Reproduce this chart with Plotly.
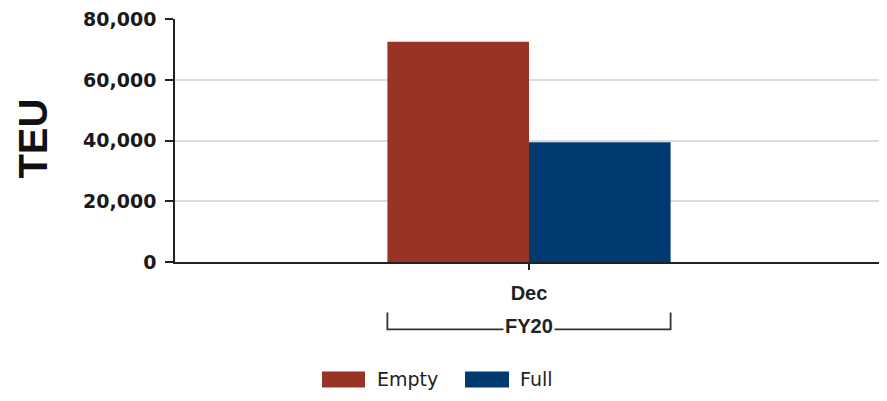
import plotly.graph_objects as go

# ---- data ----
categories = ["Dec"]
group_label = "FY20"
series_names = ["Empty", "Full"]
empty_values = [72600]
full_values = [39450]
y_ticks = [0, 20000, 40000, 60000, 80000]
y_title = "TEU"

colors = ["#993324", "#003A70"]

# ---- layout geometry (page pixels; page body has an 8px offset) ----
OFF = 8
PAGE_W, PAGE_H = 887, 401
W, H = PAGE_W - OFF, PAGE_H - OFF
PLOT_L, PLOT_R, PLOT_T, PLOT_B = 175, 883, 19.3, 262.5  # page coords
L = PLOT_L - OFF
R = PAGE_W - PLOT_R
T = PLOT_T - OFF
B = PAGE_H - PLOT_B
pw = PLOT_R - PLOT_L
ph = PLOT_B - PLOT_T


def px_x(px):
    return (px - PLOT_L) / pw


def px_y(py):
    return (PLOT_B - py) / ph


fig = go.Figure()
fig.add_trace(go.Bar(x=categories, y=empty_values, name=series_names[0],
                     marker=dict(color=colors[0], line=dict(width=0))))
fig.add_trace(go.Bar(x=categories, y=full_values, name=series_names[1],
                     marker=dict(color=colors[1], line=dict(width=0))))

fig.update_layout(
    width=W, height=H,
    margin=dict(l=L, r=R, t=T, b=B, pad=0, autoexpand=False),
    paper_bgcolor="white", plot_bgcolor="white",
    barmode="group", bargap=0.6, bargroupgap=0,
    showlegend=False,
)

fig.update_yaxes(
    range=[0, 80080], tickvals=y_ticks, tickformat=",",
    automargin=False,
    showgrid=True, gridcolor="#DCDCDC", gridwidth=1.5,
    showline=True, linecolor="#222222", linewidth=1.5,
    ticks="outside", ticklen=8, tickcolor="#222222", tickwidth=1.5,
    ticklabelstandoff=5, ticklabeloverflow="allow",
    tickfont=dict(family="DejaVu Sans", size=19, color="#1a1a1a", weight="bold"),
    zeroline=False,
)
fig.update_xaxes(
    automargin=False,
    showline=True, linecolor="#222222", linewidth=1.5,
    ticks="outside", ticklen=6, tickcolor="#222222", tickwidth=1.5,
    ticklabelstandoff=6,
    tickfont=dict(family="Liberation Sans", size=20, color="#222222", weight="bold"),
    showgrid=False,
)

# y-axis title
fig.add_annotation(
    text=y_title, textangle=-90, xref="paper", yref="paper",
    x=px_x(33), y=px_y(139), xanchor="center", yanchor="middle",
    showarrow=False,
    font=dict(family="Liberation Sans", size=40, color="#111111", weight="bold"),
)

# group bracket (FY20) spanning the bar group
half = (1 - 0.6) / 2
yb_top = px_y(313)
yb_bot = px_y(330)
fig.add_shape(
    type="path", xref="x", yref="paper",
    path=f"M {-half},{yb_top} L {-half},{yb_bot} L {half},{yb_bot} L {half},{yb_top}",
    line=dict(color="#333333", width=1.8),
)
fig.add_annotation(
    text=group_label, xref="x", yref="paper", x=0, y=px_y(327),
    xanchor="center", yanchor="middle", showarrow=False,
    bgcolor="white", borderpad=1,
    font=dict(family="Liberation Sans", size=20, color="#222222", weight="bold"),
)

# custom legend
legend_items = [(series_names[0], colors[0], 322, 365, 375),
                (series_names[1], colors[1], 465, 509, 518)]
for name, col, sx0, sx1, tx in legend_items:
    fig.add_shape(type="rect", xref="paper", yref="paper",
                  x0=px_x(sx0), x1=px_x(sx1), y0=px_y(372), y1=px_y(388),
                  fillcolor=col, line=dict(width=0))
    fig.add_annotation(text=name, xref="paper", yref="paper",
                       x=px_x(tx), y=px_y(380), xanchor="left", yanchor="middle",
                       showarrow=False,
                       font=dict(family="DejaVu Sans", size=19, color="#222222"))

fig.write_html("out.html")
